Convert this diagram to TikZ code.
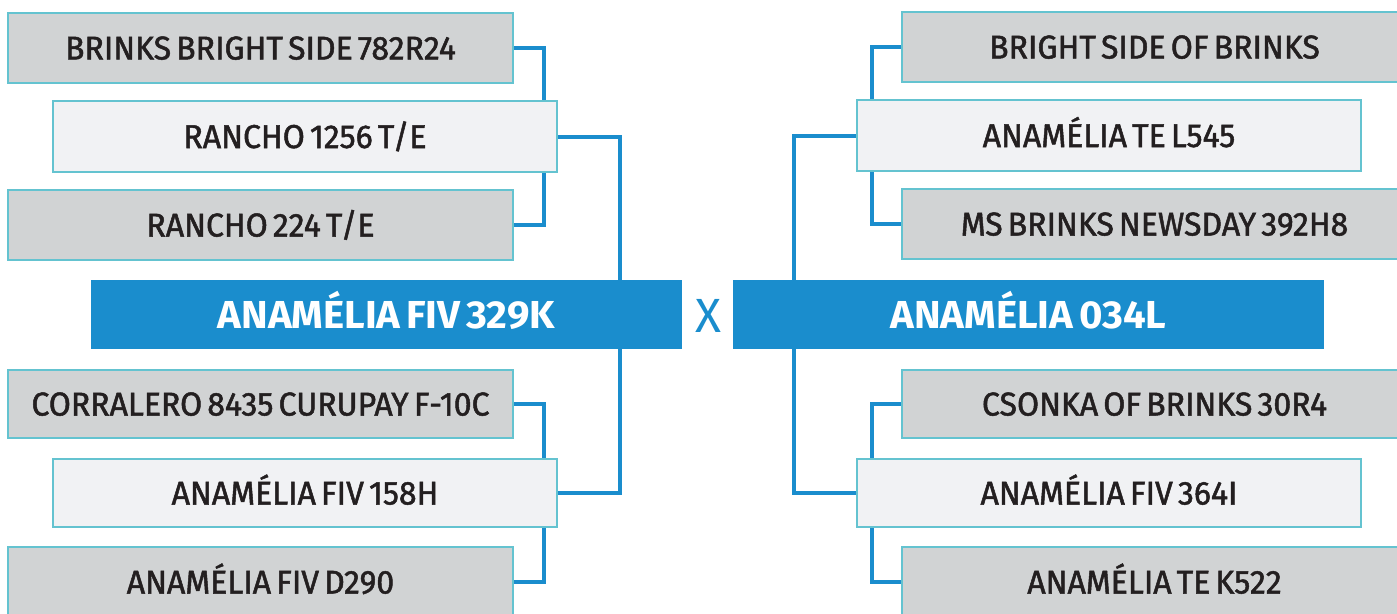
\documentclass[tikz,border=0pt]{standalone}
\usepackage{fontspec}
\setmainfont{Fira Sans}[WordSpace=0.6, BoldFeatures={FakeStretch=1.03}]
\newfontfamily\boxfont{Fira Sans}[FakeStretch=0.97, FakeBold=1.5, WordSpace=0.6]
\usetikzlibrary{backgrounds}
\definecolor{boxgray}{HTML}{D1D3D4}
\definecolor{boxlight}{HTML}{F1F2F4}
\definecolor{boxedge}{HTML}{64C3D0}
\definecolor{champblue}{HTML}{1A8DCD}
\definecolor{ink}{HTML}{231F20}

\begin{document}
\begin{tikzpicture}[x=1pt,y=-1pt,
    horse/.style={draw=boxedge, line width=2.5pt, fill=boxgray, anchor=north west,
      minimum width=505pt, minimum height=70pt, inner sep=0pt, outer sep=0pt,
      text=ink, text height=23pt, text depth=0pt, font=\boxfont\fontsize{33}{33}\selectfont},
    sire/.style={horse, fill=boxlight, minimum width=504pt},
    champ/.style={fill=champblue, anchor=north west, minimum width=591pt, minimum height=69pt,
      inner sep=0pt, outer sep=0pt, text=white, text height=27pt, text depth=0pt,
      font=\fontsize{39}{39}\selectfont\bfseries},
    link/.style={champblue, line width=4pt}]
  \useasboundingbox (0,0) rectangle (1397,613);
  \clip (0,0) rectangle (1397,613);

  \node[horse] (brinks782) at (8,13) {BRINKS BRIGHT SIDE 782R24};
  \node[sire, minimum height=71pt] (rancho1256) at (53,101) {RANCHO 1256 T/E};
  \node[horse] (rancho224) at (8,190) {RANCHO 224 T/E};
  \node[champ] (fiv329k) at (91,280) {ANAMÉLIA FIV 329K};
  \node[horse, minimum height=68pt] (corralero) at (8,370) {CORRALERO 8435 CURUPAY F-10C};
  \node[sire, minimum height=68pt] (fiv158h) at (53,459) {ANAMÉLIA FIV 158H};
  \node[horse] (fivd290) at (8,547) {ANAMÉLIA FIV D290};

  \node[text=champblue, font=\fontsize{48}{48}\selectfont] (cross) at (708,316) {X};

  \node[horse] (brightside) at (902,12) {BRIGHT SIDE OF BRINKS};
  \node[sire, minimum height=71pt] (tel545) at (857,100) {ANAMÉLIA TE L545};
  \node[horse] (newsday) at (902,189) {MS BRINKS NEWSDAY 392H8};
  \node[champ] (a034l) at (733,280) {ANAMÉLIA 034L};
  \node[horse, minimum height=68pt] (csonka) at (902,370) {CSONKA OF BRINKS 30R4};
  \node[sire, minimum height=68pt] (fiv364i) at (857,459) {ANAMÉLIA FIV 364I};
  \node[horse] (tek522) at (902,547) {ANAMÉLIA TE K522};

  \begin{scope}[on background layer]
    \draw[link] (brinks782.east) -| ([xshift=-13pt]rancho1256.north east);
    \draw[link] (rancho224.east) -| ([xshift=-13pt]rancho1256.south east);
    \draw[link] (rancho1256.east) -| ([xshift=-62pt]fiv329k.north east);
    \draw[link] (corralero.east) -| ([xshift=-13pt]fiv158h.north east);
    \draw[link] (fivd290.east) -| ([xshift=-13pt]fiv158h.south east);
    \draw[link] (fiv158h.east) -| ([xshift=-62pt]fiv329k.south east);

    \draw[link] (brightside.west) -| ([xshift=15pt]tel545.north west);
    \draw[link] (newsday.west) -| ([xshift=15pt]tel545.south west);
    \draw[link] (tel545.west) -| ([xshift=61pt]a034l.north west);
    \draw[link] (csonka.west) -| ([xshift=15pt]fiv364i.north west);
    \draw[link] (tek522.west) -| ([xshift=15pt]fiv364i.south west);
    \draw[link] (fiv364i.west) -| ([xshift=61pt]a034l.south west);
  \end{scope}
\end{tikzpicture}
\end{document}
